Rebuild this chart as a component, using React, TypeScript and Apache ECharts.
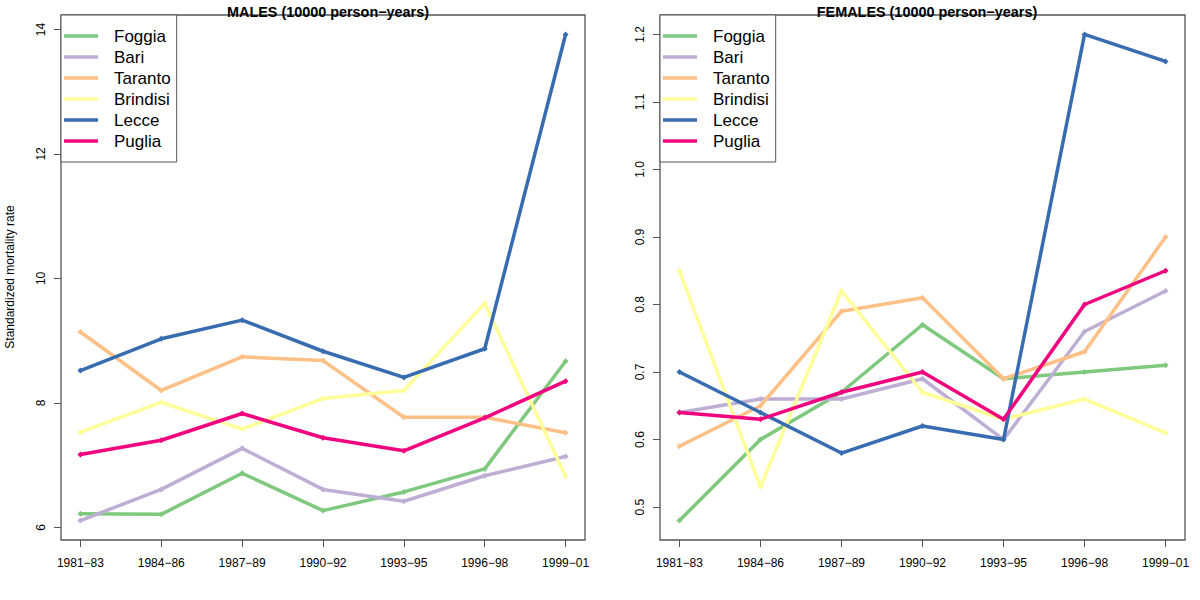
import React, { useEffect, useRef } from "react";
import * as echarts from "echarts";

const categories = ["1981−83", "1984−86", "1987−89", "1990−92", "1993−95", "1996−98", "1999−01"];
const regions = ["Foggia", "Bari", "Taranto", "Brindisi", "Lecce", "Puglia"];

const malesFoggia = [6.22, 6.21, 6.87, 6.27, 6.57, 6.94, 8.67];
const malesBari = [6.11, 6.61, 7.27, 6.61, 6.42, 6.83, 7.14];
const malesTaranto = [9.14, 8.2, 8.74, 8.68, 7.77, 7.77, 7.52];
const malesBrindisi = [7.53, 8.01, 7.58, 8.07, 8.2, 9.6, 6.82];
const malesLecce = [8.52, 9.03, 9.33, 8.83, 8.41, 8.87, 13.92];
const malesPuglia = [7.17, 7.4, 7.83, 7.44, 7.23, 7.76, 8.35];

const femalesFoggia = [0.48, 0.6, 0.67, 0.77, 0.69, 0.7, 0.71];
const femalesBari = [0.64, 0.66, 0.66, 0.69, 0.6, 0.76, 0.82];
const femalesTaranto = [0.59, 0.65, 0.79, 0.81, 0.69, 0.73, 0.9];
const femalesBrindisi = [0.85, 0.53, 0.82, 0.67, 0.63, 0.66, 0.61];
const femalesLecce = [0.7, 0.64, 0.58, 0.62, 0.6, 1.2, 1.16];
const femalesPuglia = [0.64, 0.63, 0.67, 0.7, 0.63, 0.8, 0.85];

const maleTicks = [6, 8, 10, 12, 14];
const femaleTicks = [0.5, 0.6, 0.7, 0.8, 0.9, 1.0, 1.1, 1.2];

const maleTitle = "MALES (10000 person−years)";
const femaleTitle = "FEMALES (10000 person−years)";
const yName = "Standardized mortality rate";

const palette = ["#7FC97F", "#BEAED4", "#FDC086", "#FFFF99", "#386CB0", "#F0027F"];
const FONT = "'Liberation Sans', Arial, Helvetica, sans-serif";
const BOX = "#555555";

function extRange(arrs: number[][]) {
  const all = arrs.flat();
  const mn = Math.min(...all);
  const mx = Math.max(...all);
  const d = (mx - mn) * 0.04;
  return [mn - d, mx + d];
}

export default function App() {
  const ref = useRef<HTMLDivElement>(null);
  useEffect(() => {
    if (!ref.current) return;
    const chart = echarts.init(ref.current, undefined, { renderer: "svg" });
    const males = [malesFoggia, malesBari, malesTaranto, malesBrindisi, malesLecce, malesPuglia];
    const females = [femalesFoggia, femalesBari, femalesTaranto, femalesBrindisi, femalesLecce, femalesPuglia];
    const mR = extRange(males);
    const fR = extRange(females);
    const xIdx = categories.map((_, i) => i + 1);

    const mkX = (gi: number) => ({
      type: "value",
      gridIndex: gi,
      min: 1 - 0.24,
      max: categories.length + 0.24,
      axisLine: { show: false },
      splitLine: { show: false },
      axisTick: { show: true, length: 7, customValues: xIdx, lineStyle: { color: BOX, width: 1 } },
      axisLabel: {
        customValues: xIdx,
        formatter: (v: number) => categories[Math.round(v) - 1],
        color: "#000",
        fontSize: 12,
        fontFamily: FONT,
        margin: 17,
      },
    });
    const mkY = (gi: number, r: number[], ticks: number[], dec: number) => ({
      type: "value",
      gridIndex: gi,
      min: r[0],
      max: r[1],
      axisLine: { show: false },
      splitLine: { show: false },
      axisTick: { show: true, length: 7, customValues: ticks, lineStyle: { color: BOX, width: 1 } },
      axisLabel: {
        customValues: ticks,
        rotate: 90,
        formatter: (v: number) => v.toFixed(dec),
        color: "#000",
        fontSize: 12,
        fontFamily: FONT,
        margin: 14,
      },
    });
    const mkLegend = (left: number) => ({
      left,
      top: 15,
      orient: "vertical",
      data: regions,
      icon: "rect",
      itemWidth: 34,
      itemHeight: 3.5,
      itemGap: 4,
      padding: [12.5, 6, 12.5, 3],
      borderColor: BOX,
      borderWidth: 1,
      borderRadius: 0,
      backgroundColor: "#fff",
      selectedMode: false,
      textStyle: { fontSize: 17, fontFamily: FONT, color: "#000", padding: [0, 0, 0, 11] },
    });

    const series: any[] = [];
    [males, females].forEach((set, gi) => {
      set.forEach((vals, si) => {
        series.push({
          type: "line",
          name: regions[si],
          xAxisIndex: gi,
          yAxisIndex: gi,
          data: vals.map((v, i) => [xIdx[i], v]),
          symbol: "diamond",
          symbolSize: 6,
          showSymbol: true,
          lineStyle: { width: 3.5, color: palette[si] },
          itemStyle: { color: palette[si] },
          z: 2 + si * 0.01,
        });
      });
    });

    chart.setOption({
      animation: false,
      backgroundColor: "#fff",
      title: [
        { text: maleTitle, left: 323, top: 0, textAlign: "center", textStyle: { fontSize: 14.4, fontWeight: "bold", fontFamily: FONT, color: "#000" } },
        { text: femaleTitle, left: 922, top: 0, textAlign: "center", textStyle: { fontSize: 14.4, fontWeight: "bold", fontFamily: FONT, color: "#000" } },
      ],
      grid: [
        { left: 61, right: 615, top: 15, bottom: 60, show: true, borderColor: BOX, borderWidth: 1.3, backgroundColor: "transparent" },
        { left: 660, right: 15, top: 15, bottom: 60, show: true, borderColor: BOX, borderWidth: 1.3, backgroundColor: "transparent" },
      ],
      xAxis: [mkX(0), mkX(1)],
      yAxis: [mkY(0, mR, maleTicks, 0), mkY(1, fR, femaleTicks, 1)],
      legend: [mkLegend(61), mkLegend(660)],
      graphic: [
        {
          type: "text",
          x: 10,
          y: 277,
          rotation: Math.PI / 2,
          style: { text: yName, fontSize: 12, fontFamily: FONT, fill: "#000", textAlign: "center", textVerticalAlign: "middle" },
        },
      ],
      series,
    });
    return () => chart.dispose();
  }, []);
  return <div ref={ref} style={{ position: "absolute", left: 0, top: 0, width: 1200, height: 600 }} />;
}
